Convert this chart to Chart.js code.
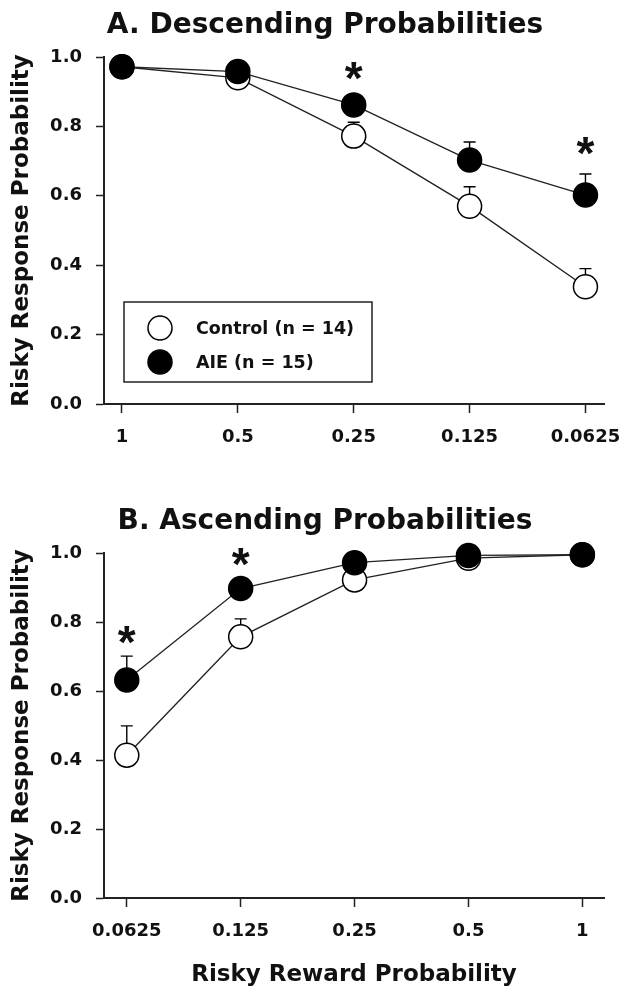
<!DOCTYPE html>
<html>
<head>
<meta charset="utf-8">
<script src="https://cdn.jsdelivr.net/npm/chart.js@4.4.0/dist/chart.umd.min.js"></script>
<style>
  body { margin: 0; background: #fff; }
  #wrap { position: relative; width: 620px; height: 990px; }
  canvas { position: absolute; left: 0; }
  #chartA { top: 0; }
  #chartB { top: 470px; }
</style>
</head>
<body>
<div id="wrap">
  <canvas id="chartA" width="620" height="470"></canvas>
  <canvas id="chartB" width="620" height="520"></canvas>
</div>
<script>
// Panel A - descending probabilities
const labelsA = ['1', '0.5', '0.25', '0.125', '0.0625'];
const controlA = [0.972, 0.94, 0.772, 0.57, 0.338];
const aieA = [0.972, 0.958, 0.862, 0.703, 0.602];
const controlErrA = [0.01, 0.012, 0.04, 0.056, 0.052];
const aieErrA = [0.015, 0.01, 0.02, 0.052, 0.061];
const starsA = [null, null, 0.955, null, 0.737];

// Panel B - ascending probabilities
const labelsB = ['0.0625', '0.125', '0.25', '0.5', '1'];
const controlB = [0.414, 0.757, 0.922, 0.985, 0.995];
const aieB = [0.632, 0.897, 0.972, 0.993, 0.995];
const controlErrB = [0.085, 0.052, 0.02, 0.008, 0.004];
const aieErrB = [0.069, 0.02, 0.01, 0.005, 0.004];
const starsB = [0.757, 0.983, null, null, null];

const yTicks = [0, 0.2, 0.4, 0.6, 0.8, 1.0];
const legendLabels = ['Control (n = 14)', 'AIE (n = 15)'];

const FONT = '"DejaVu Sans", Verdana, sans-serif';
const STAR_FONT = '"Liberation Sans", Arial, sans-serif';
const INK = '#111';

const extras = {
  id: 'extras',
  beforeDatasetsDraw(chart, args, opts) {
    const { ctx, scales: { x, y } } = chart;
    ctx.save();
    ctx.strokeStyle = '#000';
    ctx.lineWidth = 1.4;
    opts.errors.forEach(({ values, sem }) => {
      values.forEach((v, i) => {
        const px = x.getPixelForValue(i);
        const y0 = y.getPixelForValue(v);
        const y1 = y.getPixelForValue(v + sem[i]);
        ctx.beginPath();
        ctx.moveTo(px, y0);
        ctx.lineTo(px, y1);
        ctx.moveTo(px - 6, y1);
        ctx.lineTo(px + 6, y1);
        ctx.stroke();
      });
    });
    ctx.restore();
  },
  afterDatasetsDraw(chart, args, opts) {
    const { ctx, chartArea: area, scales: { x, y } } = chart;
    ctx.save();
    // panel title
    ctx.font = `bold 28px ${FONT}`;
    ctx.fillStyle = INK;
    ctx.textAlign = 'center';
    ctx.textBaseline = 'alphabetic';
    ctx.fillText(opts.title, 325, area.top - opts.titleGap);
    // significance stars
    const size = 46;
    ctx.font = `bold ${size}px ${STAR_FONT}`;
    opts.stars.forEach((s, i) => {
      if (s == null) return;
      ctx.fillText('*', x.getPixelForValue(i), y.getPixelForValue(s) + size * 0.46);
    });
    // legend box
    if (opts.legend) {
      const left = area.left + 20, top = area.bottom - 102;
      ctx.fillStyle = '#fff';
      ctx.fillRect(left, top, 248, 80);
      ctx.strokeStyle = '#222';
      ctx.lineWidth = 1.5;
      ctx.strokeRect(left, top, 248, 80);
      const rows = [
        { fill: '#fff', text: legendLabels[0], dy: 26 },
        { fill: '#000', text: legendLabels[1], dy: 60 },
      ];
      ctx.font = `bold 17.5px ${FONT}`;
      ctx.textAlign = 'left';
      ctx.textBaseline = 'middle';
      rows.forEach(r => {
        ctx.beginPath();
        ctx.arc(left + 36, top + r.dy, 12, 0, Math.PI * 2);
        ctx.fillStyle = r.fill;
        ctx.fill();
        ctx.lineWidth = 1.5;
        ctx.strokeStyle = '#000';
        ctx.stroke();
        ctx.fillStyle = INK;
        ctx.fillText(r.text, left + 72, top + r.dy + 1);
      });
    }
    ctx.restore();
  }
};

function makeDataset(label, values, fill) {
  return {
    label: label,
    data: values.map((v, i) => ({ x: i, y: v })),
    borderColor: '#222',
    borderWidth: 1.4,
    pointRadius: 12,
    pointBackgroundColor: fill,
    pointBorderColor: '#000',
    pointBorderWidth: 1.5,
    tension: 0,
    clip: false,
  };
}

function createPanel({ canvasId, title, titleGap, top, labels, control, aie, controlErr, aieErr, stars, xMin, xMax, xHeight, xTitle, legend }) {
  return new Chart(document.getElementById(canvasId), {
    type: 'line',
    data: {
      // AIE first so the filled markers sit on top
      datasets: [
        makeDataset(legendLabels[1], aie, '#000'),
        makeDataset(legendLabels[0], control, '#fff'),
      ]
    },
    plugins: [extras],
    options: {
      responsive: false,
      animation: false,
      devicePixelRatio: 1,
      layout: { autoPadding: false, padding: { left: 0, right: 16, top: top, bottom: 0 } },
      plugins: {
        legend: { display: false },
        tooltip: { enabled: false },
        title: { display: false },
        extras: {
          title: title,
          titleGap: titleGap,
          errors: [{ values: control, sem: controlErr }, { values: aie, sem: aieErr }],
          stars: stars,
          legend: legend,
        },
      },
      scales: {
        x: {
          type: 'linear',
          min: xMin,
          max: xMax,
          afterBuildTicks: scale => { scale.ticks = labels.map((_, i) => ({ value: i })); },
          afterFit: scale => {
            scale.height = xHeight;
            scale.paddingLeft = 0;
            scale.paddingRight = 0;
          },
          ticks: {
            callback: v => labels[v],
            color: INK,
            font: { family: FONT, size: 18, weight: 'bold' },
            padding: 14,
            maxRotation: 0,
            autoSkip: false,
          },
          grid: { drawOnChartArea: false, tickLength: 9, tickColor: '#222', tickWidth: 1.5 },
          border: { color: '#222', width: 2 },
          title: {
            display: !!xTitle,
            text: xTitle,
            color: INK,
            font: { family: FONT, size: 23, weight: 'bold' },
            padding: { top: 0, bottom: 1 },
          },
        },
        y: {
          min: 0,
          max: 1,
          afterBuildTicks: scale => { scale.ticks = yTicks.map(v => ({ value: v })); },
          afterFit: scale => {
            scale.width = 104;
            scale.paddingTop = 0;
            scale.paddingBottom = 0;
          },
          ticks: {
            callback: v => v.toFixed(1),
            color: INK,
            font: { family: FONT, size: 18, weight: 'bold' },
            padding: 14,
          },
          grid: { drawOnChartArea: false, tickLength: 8, tickColor: '#222', tickWidth: 1.5 },
          border: { color: '#222', width: 2 },
          title: {
            display: true,
            text: 'Risky Response Probability',
            color: INK,
            font: { family: FONT, size: 23, weight: 'bold' },
            padding: { top: 8, bottom: 0 },
          },
        },
      },
    },
  });
}

createPanel({
  canvasId: 'chartA',
  title: 'A. Descending Probabilities',
  titleGap: 24,
  top: 57,
  labels: labelsA,
  control: controlA,
  aie: aieA,
  controlErr: controlErrA,
  aieErr: aieErrA,
  stars: starsA,
  xMin: -0.155,
  xMax: 4.16,
  xHeight: 66,
  xTitle: '',
  legend: true,
});

createPanel({
  canvasId: 'chartB',
  title: 'B. Ascending Probabilities',
  titleGap: 24,
  top: 83,
  labels: labelsB,
  control: controlB,
  aie: aieB,
  controlErr: controlErrB,
  aieErr: aieErrB,
  stars: starsB,
  xMin: -0.2,
  xMax: 4.19,
  xHeight: 92,
  xTitle: 'Risky Reward Probability',
  legend: false,
});
</script>
</body>
</html>
